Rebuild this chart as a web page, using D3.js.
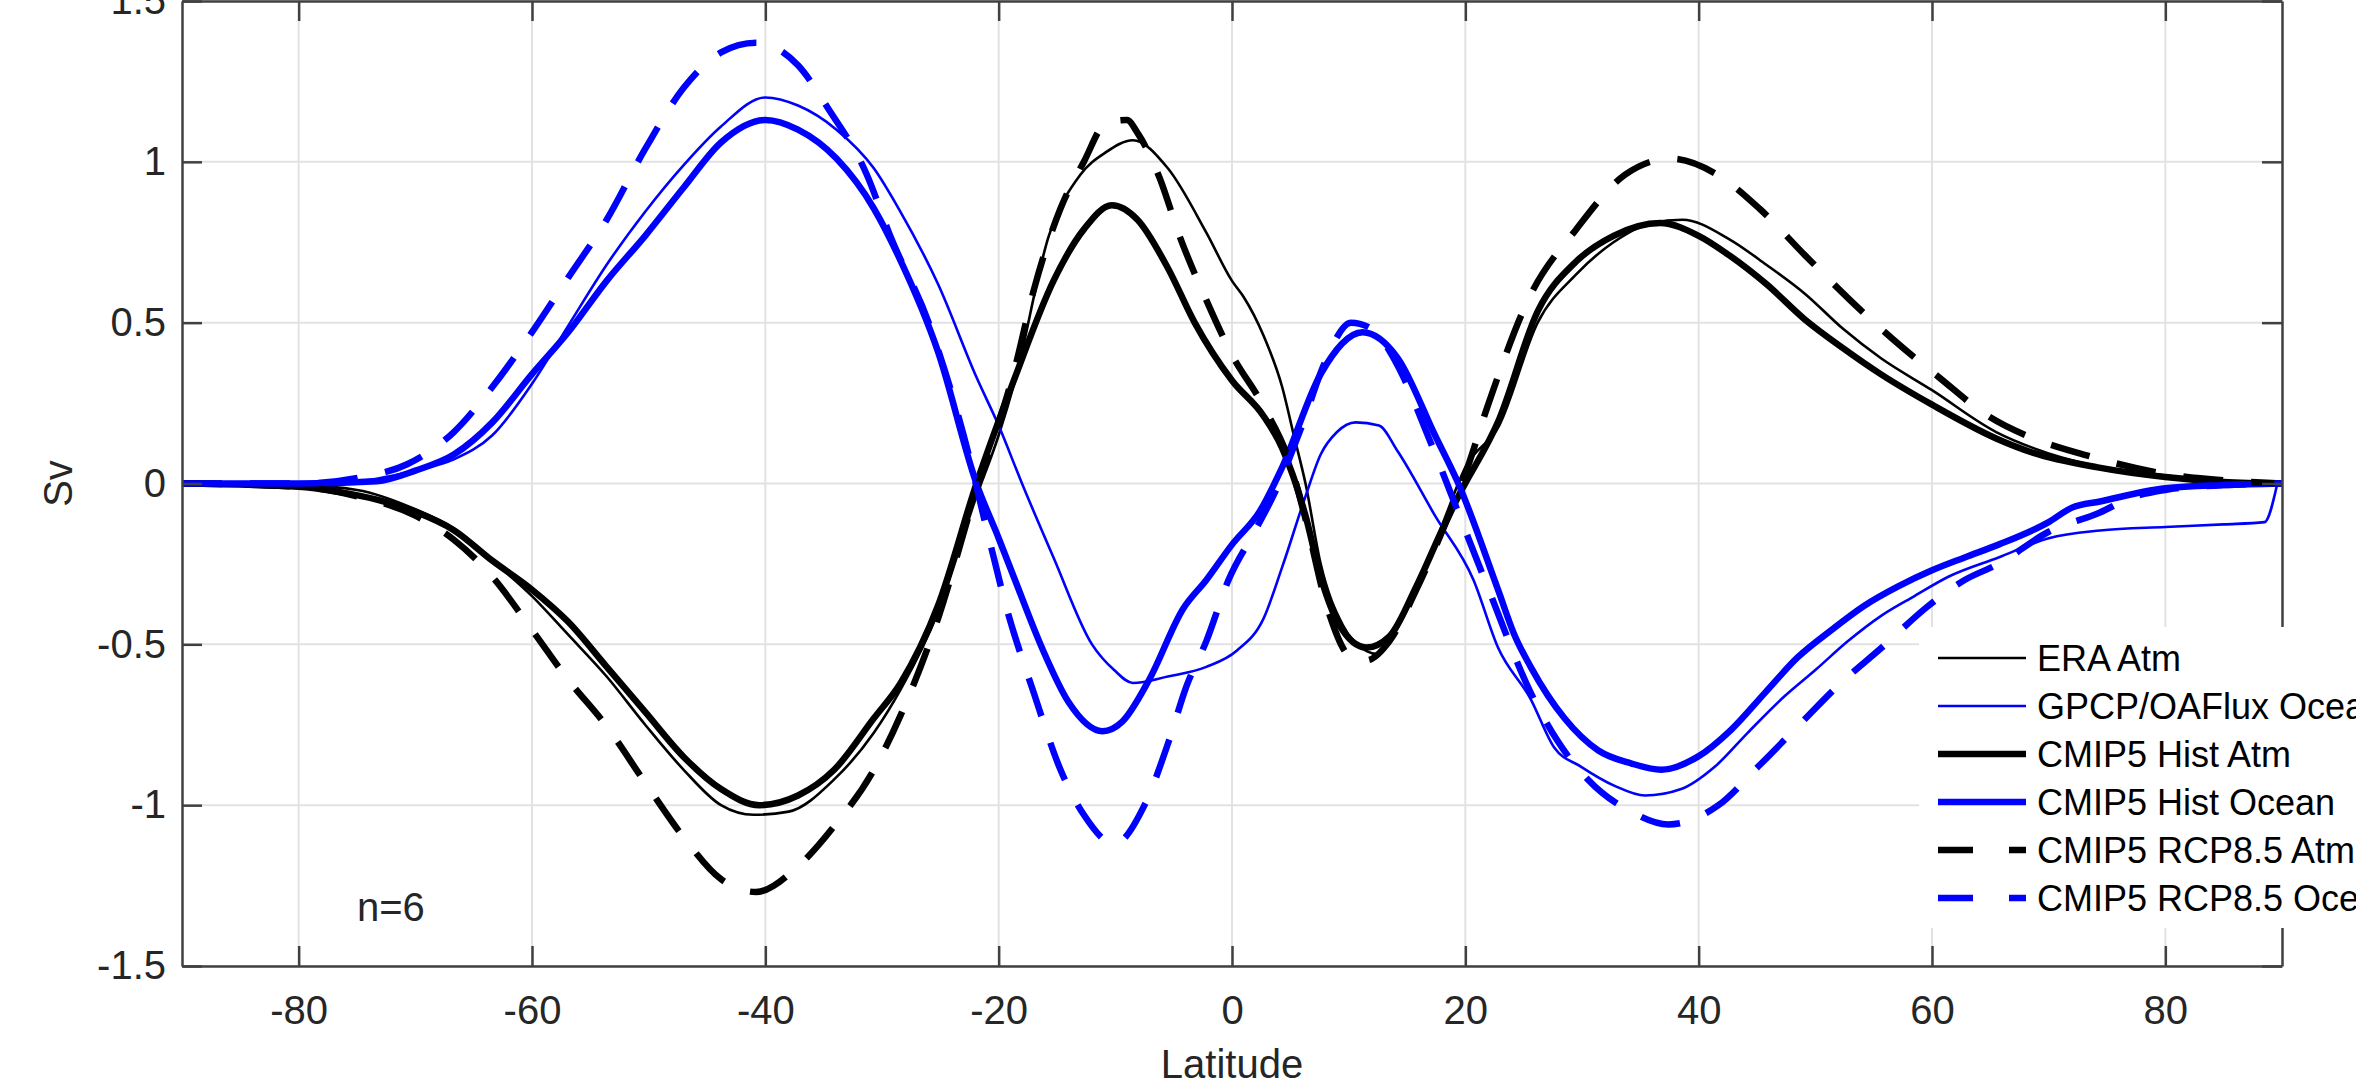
<!DOCTYPE html>
<html>
<head>
<meta charset="utf-8">
<script src="https://cdn.jsdelivr.net/npm/d3@7"></script>
<style>
  html, body { margin: 0; padding: 0; background: #fff; overflow: hidden; }
  svg { display: block; font-family: "Liberation Sans", Arial, Helvetica, sans-serif; }
</style>
</head>
<body>
<svg id="chart" width="2356" height="1091"></svg>
<script>
// ---------------- DATA ----------------
const xTicks = [-80, -60, -40, -20, 0, 20, 40, 60, 80];
const yTicks = [-1.5, -1, -0.5, 0, 0.5, 1, 1.5];
const xLabel = "Latitude";
const yLabel = "Sv";
const noteText = "n=6";

const seriesNames = ["ERA Atm", "GPCP/OAFlux Ocean", "CMIP5 Hist Atm", "CMIP5 Hist Ocean", "CMIP5 RCP8.5 Atm", "CMIP5 RCP8.5 Ocean"];

// ERA Atm
const eraLat = [-90, -80, -75, -70, -66.7, -63.4, -60, -56.9, -53.6, -50.3, -47, -43.8, -41, -38, -34.1, -30.7, -28.4, -25.2, -22, -20, -18.6, -15.7, -13, -10.8, -8.5, -5.5, -2.2, 0, 1, 2.7, 4.3, 5.3, 6.3, 7.6, 9.5, 11.5, 12.5, 13.5, 15.8, 18, 20, 22.9, 26.2, 29.5, 32.7, 36, 38.6, 42.6, 45.8, 49.1, 52.4, 55.6, 60, 65.5, 68.7, 74, 80, 85, 90];
const eraVal = [0, -0.005, -0.02, -0.08, -0.14, -0.24, -0.35, -0.47, -0.6, -0.75, -0.89, -1.0, -1.03, -1.02, -0.92, -0.775, -0.64, -0.4, -0.05, 0.15, 0.32, 0.77, 0.96, 1.03, 1.067, 0.98, 0.78, 0.63, 0.58, 0.46, 0.3, 0.15, 0, -0.25, -0.44, -0.52, -0.53, -0.49, -0.33, -0.13, 0.05, 0.18, 0.5, 0.65, 0.75, 0.81, 0.82, 0.76, 0.68, 0.59, 0.48, 0.39, 0.29, 0.16, 0.11, 0.055, 0.025, 0.008, 0];

// GPCP/OAFlux Ocean
const gpcpLat = [-90, -80, -76, -73.3, -70, -66.7, -63.4, -60, -56.9, -53.6, -50.3, -47, -43.8, -40, -37.2, -33.9, -30.7, -28.5, -25.2, -21.9, -20, -18, -15.3, -12, -10.1, -8.5, -5.5, -2.2, 0.4, 2.7, 4.3, 6.3, 7.6, 9, 10.6, 12.6, 14.2, 17.4, 20.7, 22.8, 25.6, 27.6, 29.9, 32.8, 35.4, 38.5, 41.4, 44.2, 47.1, 50, 52.8, 55.7, 58.5, 61.4, 65.7, 70, 74.4, 80, 85, 88.5, 89.6];
const gpcpVal = [0, 0, 0.005, 0.015, 0.04, 0.075, 0.15, 0.31, 0.49, 0.68, 0.845, 0.99, 1.11, 1.2, 1.175, 1.1, 0.98, 0.85, 0.62, 0.33, 0.18, 0, -0.23, -0.5, -0.58, -0.62, -0.6, -0.57, -0.52, -0.42, -0.26, -0.04, 0.09, 0.16, 0.19, 0.18, 0.1, -0.1, -0.3, -0.51, -0.67, -0.82, -0.88, -0.94, -0.97, -0.95, -0.88, -0.775, -0.67, -0.58, -0.49, -0.41, -0.35, -0.29, -0.23, -0.17, -0.146, -0.135, -0.127, -0.12, 0];

// CMIP5 Hist Atm
const histAtmLat = [-90, -80, -76.6, -73.3, -70, -66.7, -63.4, -60, -56.9, -53.6, -50.3, -47, -43.8, -40.5, -37.2, -34.1, -30.7, -28.4, -25.2, -21.9, -18.6, -15.3, -12.7, -10.3, -8.1, -5.5, -3.2, 0, 2.7, 4.3, 6.3, 7.6, 9.2, 11.5, 13.5, 15.8, 18, 19.4, 22.9, 26.2, 29.5, 32.7, 36.7, 40, 42.6, 45.8, 49.1, 52.4, 55.6, 60, 65.5, 68.7, 74.2, 80, 85, 90];
const histAtmVal = [0, -0.01, -0.026, -0.05, -0.088, -0.145, -0.24, -0.33, -0.43, -0.57, -0.71, -0.85, -0.95, -1.0, -0.97, -0.89, -0.73, -0.62, -0.38, 0, 0.33, 0.63, 0.79, 0.865, 0.82, 0.67, 0.5, 0.32, 0.21, 0.11, -0.1, -0.29, -0.44, -0.51, -0.475, -0.32, -0.145, -0.04, 0.2, 0.535, 0.69, 0.77, 0.81, 0.77, 0.71, 0.62, 0.51, 0.42, 0.34, 0.245, 0.14, 0.095, 0.05, 0.02, 0.005, 0];

// CMIP5 Hist Ocean
const histOcnLat = [-90, -80, -73.3, -70, -66.7, -63.4, -60, -56.9, -53.6, -50.3, -47, -43.8, -40, -37.2, -33.9, -30.7, -28.5, -25.2, -21.9, -20, -18.6, -16.3, -14, -11.1, -9.4, -7.1, -4.2, -2.2, 0, 2.4, 4.3, 7.6, 11.2, 14.2, 17.4, 19.4, 22.8, 24.2, 25.6, 28.5, 31.4, 34.2, 36.8, 39.9, 42.8, 45.7, 48.5, 51.4, 54.2, 57.1, 60, 62.8, 65.7, 70, 72, 74.4, 80, 85, 90];
const histOcnVal = [0, 0, 0.007, 0.04, 0.09, 0.19, 0.34, 0.47, 0.63, 0.77, 0.92, 1.06, 1.13, 1.1, 1.01, 0.855, 0.7, 0.41, 0, -0.17, -0.3, -0.51, -0.68, -0.77, -0.74, -0.61, -0.39, -0.3, -0.19, -0.085, 0.05, 0.34, 0.47, 0.39, 0.15, 0, -0.33, -0.47, -0.57, -0.73, -0.83, -0.87, -0.89, -0.85, -0.765, -0.65, -0.54, -0.455, -0.38, -0.32, -0.27, -0.23, -0.19, -0.12, -0.075, -0.056, -0.015, -0.005, 0];

// CMIP5 RCP8.5 Atm
const rcpAtmLat = [-90, -80, -75, -70, -66.7, -63.4, -60, -56.9, -53.6, -50.3, -47, -43.8, -40.8, -37.2, -34.1, -30.7, -28.4, -25.2, -22, -18.6, -17, -14.7, -12.7, -10.8, -9, -8.1, -6.2, -4.5, -2.2, 0, 2.7, 5, 6.3, 8.2, 10.2, 11.5, 13.5, 15.8, 18, 20, 22, 25.5, 29.5, 33.7, 37.6, 41.6, 45.2, 49.1, 54, 56.6, 60.6, 64.8, 68.7, 73, 80, 85, 90];
const rcpAtmVal = [0, -0.01, -0.04, -0.1, -0.175, -0.29, -0.455, -0.61, -0.755, -0.93, -1.1, -1.23, -1.27, -1.19, -1.065, -0.89, -0.72, -0.42, -0.03, 0.36, 0.6, 0.855, 1.0, 1.12, 1.13, 1.09, 0.95, 0.77, 0.57, 0.4, 0.24, 0.06, -0.11, -0.39, -0.54, -0.55, -0.49, -0.33, -0.15, 0.03, 0.25, 0.58, 0.79, 0.96, 1.01, 0.96, 0.855, 0.71, 0.535, 0.45, 0.33, 0.21, 0.14, 0.09, 0.03, 0.01, 0];

// CMIP5 RCP8.5 Ocean
const rcpOcnLat = [-90, -80, -74.6, -70.7, -66.7, -63.4, -60.2, -56.9, -53.6, -50.3, -47, -43.8, -40.8, -37.2, -34.6, -31.3, -29.3, -26, -23, -20.9, -19.3, -17, -14.7, -12.7, -10.1, -7.5, -5.5, -3.9, -2.2, -0.3, 2, 3.7, 6, 8, 10.2, 12, 14, 17, 19.5, 22, 25.6, 27.9, 30.5, 34.2, 37.4, 41.7, 45.1, 48.5, 51.9, 55.7, 59.7, 62.8, 65.7, 70, 74.4, 77, 80, 85, 90];
const rcpOcnVal = [0, 0, 0.02, 0.06, 0.16, 0.3, 0.46, 0.64, 0.82, 1.04, 1.23, 1.34, 1.37, 1.3, 1.165, 0.96, 0.77, 0.5, 0.15, -0.16, -0.39, -0.65, -0.89, -1.03, -1.12, -1.0, -0.81, -0.63, -0.49, -0.3, -0.145, -0.026, 0.18, 0.38, 0.5, 0.48, 0.38, 0.13, -0.1, -0.33, -0.65, -0.8, -0.92, -1.02, -1.06, -1.0, -0.88, -0.755, -0.63, -0.51, -0.38, -0.3, -0.25, -0.15, -0.09, -0.045, -0.02, -0.005, 0];

// ---------------- CHART ----------------
const W = 2356, H = 1091;
const mLeft = 182, mRight = 2282, mTop = 1, mBottom = 966;

const svg = d3.select("#chart");
const x = d3.scaleLinear().domain([-90, 90]).range([mLeft, mRight]);
const y = d3.scaleLinear().domain([-1.5, 1.5]).range([mBottom, mTop]);

const axisColor = "#404040";
const gridColor = "#e2e2e2";
const textColor = "#262626";

// Grid
const grid = svg.append("g");
grid.selectAll("line.gx").data(xTicks).join("line").attr("class", "gx")
  .attr("x1", d => x(d)).attr("x2", d => x(d))
  .attr("y1", mTop).attr("y2", mBottom)
  .attr("stroke", gridColor).attr("stroke-width", 2);
grid.selectAll("line.gy").data(yTicks).join("line").attr("class", "gy")
  .attr("x1", mLeft).attr("x2", mRight)
  .attr("y1", d => y(d)).attr("y2", d => y(d))
  .attr("stroke", gridColor).attr("stroke-width", 2);

// Series
const series = [
  { name: seriesNames[0], lat: eraLat, val: eraVal, color: "#000000", width: 2.6, dash: null, legendDash: null },
  { name: seriesNames[1], lat: gpcpLat, val: gpcpVal, color: "#0000ff", width: 2.6, dash: null, legendDash: null },
  { name: seriesNames[2], lat: histAtmLat, val: histAtmVal, color: "#000000", width: 6.5, dash: null, legendDash: null },
  { name: seriesNames[3], lat: histOcnLat, val: histOcnVal, color: "#0000ff", width: 6.5, dash: null, legendDash: null },
  { name: seriesNames[4], lat: rcpAtmLat, val: rcpAtmVal, color: "#000000", width: 6.5, dash: "40,28", legendDash: "35,36" },
  { name: seriesNames[5], lat: rcpOcnLat, val: rcpOcnVal, color: "#0000ff", width: 6.5, dash: "40,28", legendDash: "35,36" }
];

const line = d3.line()
  .x(d => x(d[0])).y(d => y(d[1]))
  .curve(d3.curveMonotoneX);

svg.append("defs").append("clipPath").attr("id", "plotclip")
  .append("rect").attr("x", mLeft).attr("y", mTop).attr("width", mRight - mLeft).attr("height", mBottom - mTop);

const plot = svg.append("g").attr("clip-path", "url(#plotclip)");
series.forEach(s => {
  const pts = s.lat.map((l, i) => [l, s.val[i]]);
  plot.append("path")
    .attr("d", line(pts))
    .attr("fill", "none")
    .attr("stroke", s.color)
    .attr("stroke-width", s.width)
    .attr("stroke-linejoin", "round")
    .attr("stroke-dasharray", s.dash);
});

// Axes
const fs = 40;
const fmt = d => String(d);
const xAxisB = d3.axisBottom(x).tickValues(xTicks).tickSize(-20).tickSizeOuter(0).tickPadding(30).tickFormat(fmt);
const xAxisT = d3.axisTop(x).tickValues(xTicks).tickSize(-20).tickSizeOuter(0).tickFormat("");
const yAxisL = d3.axisLeft(y).tickValues(yTicks).tickSize(-20).tickSizeOuter(0).tickPadding(16).tickFormat(fmt);
const yAxisR = d3.axisRight(y).tickValues(yTicks).tickSize(-20).tickSizeOuter(0).tickFormat("");

function styleAxis(g) {
  g.select(".domain").attr("stroke", axisColor).attr("stroke-width", 2.5);
  g.selectAll(".tick line").attr("stroke", axisColor).attr("stroke-width", 2.5);
  g.selectAll(".tick text").attr("fill", textColor).style("font-size", fs + "px")
    .style("font-family", '"Liberation Sans", Arial, sans-serif');
}
svg.append("g").attr("transform", `translate(0,${mBottom})`).call(xAxisB).call(styleAxis);
svg.append("g").attr("transform", `translate(0,${mTop})`).call(xAxisT).call(styleAxis);
svg.append("g").attr("transform", `translate(${mLeft},0)`).call(yAxisL).call(styleAxis);
svg.append("g").attr("transform", `translate(${mRight},0)`).call(yAxisR).call(styleAxis);

// Axis labels
svg.append("text").attr("x", (mLeft + mRight) / 2).attr("y", 1078)
  .attr("text-anchor", "middle").attr("fill", textColor)
  .style("font-size", fs + "px").text(xLabel);
svg.append("text").attr("transform", `translate(72,${(mTop + mBottom) / 2}) rotate(-90)`)
  .attr("text-anchor", "middle").attr("fill", textColor)
  .style("font-size", fs + "px").text(yLabel);

// Note
svg.append("text").attr("x", 357).attr("y", 921).attr("fill", textColor)
  .style("font-size", fs + "px").text(noteText);

// Legend
const lg = svg.append("g");
lg.append("rect").attr("x", 1919).attr("y", 627).attr("width", W - 1919 + 10).attr("height", 928 - 627).attr("fill", "#ffffff");
const rowY = d3.scaleLinear().domain([0, 5]).range([658, 898]);
series.forEach((s, i) => {
  const yy = rowY(i);
  lg.append("line").attr("x1", 1938).attr("x2", 2026).attr("y1", yy).attr("y2", yy)
    .attr("stroke", s.color).attr("stroke-width", s.width).attr("stroke-dasharray", s.legendDash);
  lg.append("text").attr("x", 2037).attr("y", yy + 13).attr("fill", "#000")
    .style("font-size", "36px").text(s.name);
});
</script>
</body>
</html>
